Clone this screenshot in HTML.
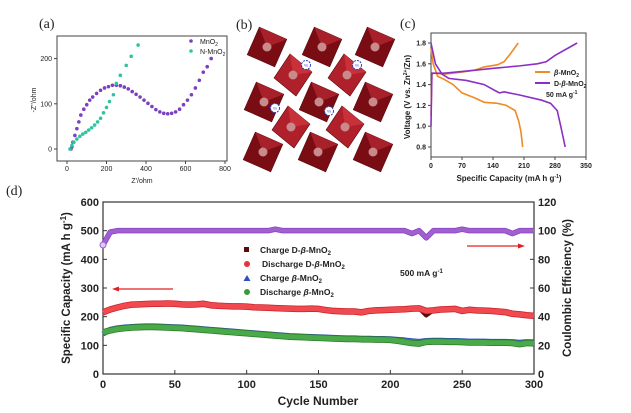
<!DOCTYPE html>
<html><head><meta charset="utf-8"><style>
html,body{margin:0;padding:0;background:#fff;}
svg{display:block;font-family:"Liberation Sans",sans-serif;}
.t{font-size:11px;font-weight:bold;fill:#222;}
.ta{font-size:7px;fill:#222;}
</style></head><body>
<svg id="fig" width="631" height="413" viewBox="0 0 631 413">
<!-- Panel a -->
<g id="pa">
<text x="39" y="28" font-family="Liberation Serif" font-size="14" fill="#222">(a)</text>
<rect x="57" y="36" width="170" height="125" fill="none" stroke="#444" stroke-width="1"/>
<text class="ta" x="142" y="183" text-anchor="middle">Z'/ohm</text>
<text class="ta" transform="translate(36,100) rotate(-90)" text-anchor="middle">-Z''/ohm</text>
<g id="pa-ticks"></g><g id="pa-marks"></g>
<circle cx="191" cy="41" r="1.8" fill="#7b3fc4"/>
<text class="ta" x="200" y="44">MnO<tspan font-size="5" dy="2">2</tspan></text>
<circle cx="191" cy="51" r="1.8" fill="#2fc4a0"/>
<text class="ta" x="200" y="54">N-MnO<tspan font-size="5" dy="2">2</tspan></text>
</g>
<!-- Panel b -->
<g id="pb">
<text x="236" y="29" font-family="Liberation Serif" font-size="14" fill="#222">(b)</text>
<g id="pb-oct"></g>
</g>
<!-- Panel c -->
<g id="pc">
<text x="400" y="28" font-family="Liberation Serif" font-size="14" fill="#222">(c)</text>
<rect x="431" y="33" width="155" height="124" fill="none" stroke="#444" stroke-width="1"/>
<text x="509" y="181" font-size="8" font-weight="bold" fill="#222" text-anchor="middle">Specific Capacity (mA h g<tspan font-size="5" dy="-3">-1</tspan><tspan dy="3">)</tspan></text>
<text transform="translate(410,97) rotate(-90)" font-size="8" font-weight="bold" fill="#222" text-anchor="middle">Voltage (V vs. Zn<tspan font-size="5" dy="-3">2+</tspan><tspan dy="3">/Zn)</tspan></text>
<g id="pc-ticks"></g><g id="pc-lines"></g>
<line x1="535" y1="72" x2="550" y2="72" stroke="#f08a24" stroke-width="2"/>
<text x="554" y="75" font-size="7" font-weight="bold" fill="#222"><tspan font-style="italic">β</tspan>-MnO<tspan font-size="5" dy="2">2</tspan></text>
<line x1="535" y1="83" x2="550" y2="83" stroke="#8a2fc4" stroke-width="2"/>
<text x="554" y="86" font-size="7" font-weight="bold" fill="#222">D-<tspan font-style="italic">β</tspan>-MnO<tspan font-size="5" dy="2">2</tspan></text>
<text x="546" y="97" font-size="7" font-weight="bold" fill="#222">50 mA g<tspan font-size="5" dy="-3">-1</tspan></text>
</g>
<!-- Panel d -->
<g id="pd">
<text x="6" y="195" font-family="Liberation Serif" font-size="14" fill="#222">(d)</text>
<rect x="103" y="202" width="431" height="172" fill="none" stroke="#333" stroke-width="1.2"/>
<text x="318" y="405" font-size="12" font-weight="bold" fill="#222" text-anchor="middle">Cycle Number</text>
<text transform="translate(70,288) rotate(-90)" font-size="11.5" font-weight="bold" fill="#222" text-anchor="middle">Specific Capacity (mA h g<tspan font-size="8" dy="-4">-1</tspan><tspan dy="4">)</tspan></text>
<text transform="translate(571,288) rotate(-90)" font-size="11.5" font-weight="bold" fill="#222" text-anchor="middle">Coulombic Efficiency (%)</text>
<g id="pd-ticks"></g><g id="pd-marks"></g>
<rect x="244" y="247" width="5" height="5" fill="#5a0c0c"/>
<text x="260" y="253" font-size="8.5" font-weight="bold" fill="#222">Charge D-<tspan font-style="italic">β</tspan>-MnO<tspan font-size="6" dy="2">2</tspan></text>
<circle cx="247" cy="264" r="3" fill="#e8303a"/>
<text x="262" y="267" font-size="8.5" font-weight="bold" fill="#222">Discharge D-<tspan font-style="italic">β</tspan>-MnO<tspan font-size="6" dy="2">2</tspan></text>
<polygon points="247,275 250.5,281 243.5,281" fill="#2f4fc4"/>
<text x="260" y="281" font-size="8.5" font-weight="bold" fill="#222">Charge <tspan font-style="italic">β</tspan>-MnO<tspan font-size="6" dy="2">2</tspan></text>
<circle cx="247" cy="292" r="3" fill="#3a9a3a"/>
<text x="260" y="295" font-size="8.5" font-weight="bold" fill="#222">Discharge <tspan font-style="italic">β</tspan>-MnO<tspan font-size="6" dy="2">2</tspan></text>
<text x="400" y="276" font-size="8.5" font-weight="bold" fill="#222">500 mA g<tspan font-size="6" dy="-3">-1</tspan></text>
<line x1="173" y1="289" x2="116" y2="289" stroke="#e02020" stroke-width="1.2"/>
<polygon points="112,289 119,286.5 119,291.5" fill="#e02020"/>
<line x1="467" y1="246" x2="520" y2="246" stroke="#e02020" stroke-width="1.2"/>
<polygon points="525,246 518,243.5 518,248.5" fill="#e02020"/>
</g>
</svg>
<script>
// ---- Panel a data ----
const mnoZre=[20,25,30,40,50,60,70,85,100,115,130,150,170,190,210,230,250,270,290,310,330,350,370,390,410,430,450,470,490,510,530,550,570,590,610,630,650,670,690,710,730];
const mnoZim=[0,5,15,30,45,60,75,88,98,108,115,123,130,135,138,141,141,140,137,133,127,121,115,108,101,94,87,82,79,78,79,82,88,98,108,120,135,152,170,182,200];
const nmnoZre=[15,25,35,50,65,80,95,110,125,140,155,170,185,200,215,235,250,270,300,325,360];
const nmnoZim=[0,8,15,22,28,33,37,42,47,53,60,68,80,92,105,120,145,163,185,205,230];
const aXTicks=[0,200,400,600,800];
const aYTicks=[0,100,200];
// ---- Panel c data ----
const betaChgCap=[0,2,5,30,70,100,120,150,165,180,197];
const betaChgV=[1.1,1.5,1.51,1.5,1.52,1.54,1.57,1.59,1.62,1.7,1.8];
const betaDisCap=[0,5,15,30,50,70,100,120,150,170,190,198,203,207];
const betaDisV=[1.75,1.6,1.48,1.45,1.4,1.32,1.27,1.23,1.22,1.2,1.15,1.05,0.95,0.8];
const dChgCap=[0,2,30,80,150,200,240,260,280,330];
const dChgV=[1.0,1.51,1.51,1.53,1.56,1.58,1.6,1.62,1.68,1.8];
const dDisCap=[0,10,25,40,80,120,150,155,165,200,250,270,285,293,303];
const dDisV=[1.8,1.6,1.5,1.46,1.44,1.4,1.33,1.32,1.33,1.3,1.25,1.22,1.15,1.0,0.8];
const cXTicks=[0,70,140,210,280,350];
const cYTicks=[0.8,1.0,1.2,1.4,1.6,1.8];
// ---- Panel d data (every 5 cycles) ----
const cycles=[0,5,10,15,20,25,30,35,40,45,50,55,60,65,70,75,80,85,90,95,100,105,110,115,120,125,130,135,140,145,150,155,160,165,170,175,180,185,190,195,200,205,210,215,220,225,230,235,240,245,250,255,260,265,270,275,280,285,290,295,300];
const disD=[215,225,232,238,242,243,244,245,245,246,245,243,242,243,245,240,238,237,236,236,235,233,232,231,230,229,228,227,227,228,227,223,220,219,218,218,215,220,222,223,224,225,226,228,229,220,222,225,226,227,220,224,222,221,220,218,216,210,208,205,203];
const chgD=[218,227,234,240,243,244,245,246,246,247,246,244,243,244,246,241,239,238,237,237,236,234,233,232,231,230,229,228,228,229,228,224,221,220,219,219,216,221,223,224,225,226,227,229,230,205,223,226,227,228,221,225,223,222,221,219,217,211,209,206,204];
const disB=[145,152,157,160,162,163,164,164,163,162,161,160,158,156,154,152,150,148,146,144,142,140,138,136,134,132,130,129,128,127,126,125,124,123,122,122,121,121,120,120,119,116,112,108,106,112,113,113,112,112,111,110,110,110,109,109,109,108,104,108,107];
const chgB=[140,155,160,163,165,166,167,167,166,165,164,163,161,159,157,155,153,151,149,147,145,143,141,139,137,135,133,132,131,130,129,128,127,126,125,125,124,124,123,123,122,120,118,115,113,116,117,117,116,116,115,114,114,114,113,113,113,112,110,112,111];
const ce=[90,99,100,100,100,100,100,100,100,100,100,100,100,100,100,100,100,100,100,100,100,100,100,100,101,100,100,100,100,100,100,100,100,100,100,100,100,100,100,100,100,100,100,98,100,95,100,100,100,100,101,100,100,100,100,100,100,98,100,100,100];
const dXTicks=[0,50,100,150,200,250,300];
const dLTicks=[0,100,200,300,400,500,600];
const dRTicks=[0,20,40,60,80,100,120];

const NS="http://www.w3.org/2000/svg";
function mk(tag,parent,attrs){const e=document.createElementNS(NS,tag);for(const k in attrs)e.setAttribute(k,attrs[k]);parent.appendChild(e);return e;}

// Panel a scales
const ax=v=>67+v*0.1975, ay=v=>149-v*0.452;
const paT=document.getElementById('pa-ticks'), paM=document.getElementById('pa-marks');
aXTicks.forEach(v=>{const l=mk('line',paT,{x1:ax(v),x2:ax(v),y1:161,y2:164,stroke:'#444'});


const t=mk('text',paT,{x:ax(v),y:171,'text-anchor':'middle',class:'ta'});t.textContent=v;

});
aYTicks.forEach(v=>{const l=mk('line',paT,{x1:54,x2:57,y1:ay(v),y2:ay(v),stroke:'#444'});


const t=mk('text',paT,{x:52,y:ay(v)+2.5,'text-anchor':'end',class:'ta'});t.textContent=v;

});
mnoZre.forEach((v,i)=>{const c=mk('circle',paM,{cx:ax(v),cy:ay(mnoZim[i]),r:1.8,fill:'#7b3fc4'});

});
nmnoZre.forEach((v,i)=>{const c=mk('circle',paM,{cx:ax(v),cy:ay(nmnoZim[i]),r:1.8,fill:'#2fc4a0'});

});

// Panel b octahedra
const pb=document.getElementById('pb-oct');
const octRows=[[47,[267,322,375],0],[75,[293,347],1],[102,[264,319,373],0],[127,[291,345],1],[152,[263,318,373],0]];
octRows.forEach(([y,xs,type])=>xs.forEach(x=>{
 let pts;
 if(type){pts=[[x-3,y-21],[x+19,y-3],[x+3,y+21],[x-19,y+3]];}
 else{const s=22;pts=[[x-s*0.35,y-s*0.9],[x+s*0.9,y-s*0.35],[x+s*0.35,y+s*0.9],[x-s*0.9,y+s*0.35]];}
 const p=mk('polygon',pb,{points:pts.map(q=>q.join(',')).join(' '),fill:type?'#b0202a':'#7a0d14',stroke:'#5a0a10','stroke-width':0.6});
 
 
 const f=mk('polygon',pb,{points:[pts[0],pts[1],[x,y]].map(q=>q.join(',')).join(' '),fill:type?'#c8303a':'#a8202a'});
 
 
 const b=mk('circle',pb,{cx:x,cy:y,r:4.5,fill:'#c88a8a'});
 
 
}));
[[306,65],[357,65],[275,108],[329,111]].forEach(([x,y])=>{
 const c=mk('circle',pb,{cx:x,cy:y,r:4.5,fill:'#fff',stroke:'#3040c0','stroke-width':1,'stroke-dasharray':'2,1'});
 
 
 const t=mk('text',pb,{x:x,y:y+1.5,'font-size':3.5,'text-anchor':'middle',fill:'#3040c0'});t.textContent='Vo';
 
 
});

// Panel c
const cx=v=>431+v*155/350, cy=v=>147-(v-0.8)*104;
const pcT=document.getElementById('pc-ticks'), pcL=document.getElementById('pc-lines');
cXTicks.forEach(v=>{const l=mk('line',pcT,{x1:cx(v),x2:cx(v),y1:157,y2:160,stroke:'#444'});


const t=mk('text',pcT,{x:cx(v),y:168,'text-anchor':'middle','font-size':7,'font-weight':'bold',fill:'#222'});t.textContent=v;

});
cYTicks.forEach(v=>{const l=mk('line',pcT,{x1:428,x2:431,y1:cy(v),y2:cy(v),stroke:'#444'});


const t=mk('text',pcT,{x:426,y:cy(v)+2.5,'text-anchor':'end','font-size':7,'font-weight':'bold',fill:'#222'});t.textContent=v.toFixed(1);

});
function cline(xs,ys,col,name){const l=mk('polyline',pcL,{points:xs.map((v,i)=>cx(v)+','+cy(ys[i])).join(' '),fill:'none',stroke:col,'stroke-width':1.6});

}
cline(betaChgCap,betaChgV,'#f08a24','beta-charge-curve');
cline(betaDisCap,betaDisV,'#f08a24','beta-discharge-curve');
cline(dChgCap,dChgV,'#8a2fc4','d-beta-charge-curve');
cline(dDisCap,dDisV,'#8a2fc4','d-beta-discharge-curve');

// Panel d
const dx=v=>103+v*431/300, dy=v=>374-v*172/600, dyr=v=>374-v*172/120;
const pdT=document.getElementById('pd-ticks'), pdM=document.getElementById('pd-marks');
dXTicks.forEach(v=>{const l=mk('line',pdT,{x1:dx(v),x2:dx(v),y1:374,y2:370,stroke:'#333'});


const t=mk('text',pdT,{x:dx(v),y:388,'text-anchor':'middle','font-size':11,'font-weight':'bold',fill:'#222'});t.textContent=v;

});
dLTicks.forEach(v=>{const l=mk('line',pdT,{x1:103,x2:107,y1:dy(v),y2:dy(v),stroke:'#333'});


const t=mk('text',pdT,{x:99,y:dy(v)+4,'text-anchor':'end','font-size':11,'font-weight':'bold',fill:'#222'});t.textContent=v;

});
dRTicks.forEach(v=>{const l=mk('line',pdT,{x1:534,x2:530,y1:dyr(v),y2:dyr(v),stroke:'#333'});


const t=mk('text',pdT,{x:538,y:dyr(v)+4,'font-size':11,'font-weight':'bold',fill:'#222'});t.textContent=v;

});
function dseries(vals,yf,col,edge,name,w){
 const l=mk('polyline',pdM,{points:cycles.map((c,i)=>dx(c)+','+yf(vals[i])).join(' '),fill:'none',stroke:edge,'stroke-width':w+1.5,'stroke-linejoin':'round'});
 
 
 const l2=mk('polyline',pdM,{points:cycles.map((c,i)=>dx(c)+','+yf(vals[i])).join(' '),fill:'none',stroke:col,'stroke-width':w,'stroke-linejoin':'round'});
 
 
}
dseries(chgB,dy,'#4a6ad0','#2f4fc4','charge-beta',4);
dseries(disB,dy,'#4aaa4a','#2a7a2a','discharge-beta',5);
dseries(chgD,dy,'#5a0c0c','#5a0c0c','charge-d-beta',3);
dseries(disD,dy,'#f04a50','#c82028','discharge-d-beta',5);
dseries(ce,dyr,'#a060d0','#8a40c0','coulombic-efficiency',4);
cycles.forEach((c,i)=>{if(i===0){const m=mk('circle',pdM,{cx:dx(c),cy:dyr(ce[i]),r:3,fill:'#e0c8f0',stroke:'#a060d0'});

}});
</script>
</body></html>
